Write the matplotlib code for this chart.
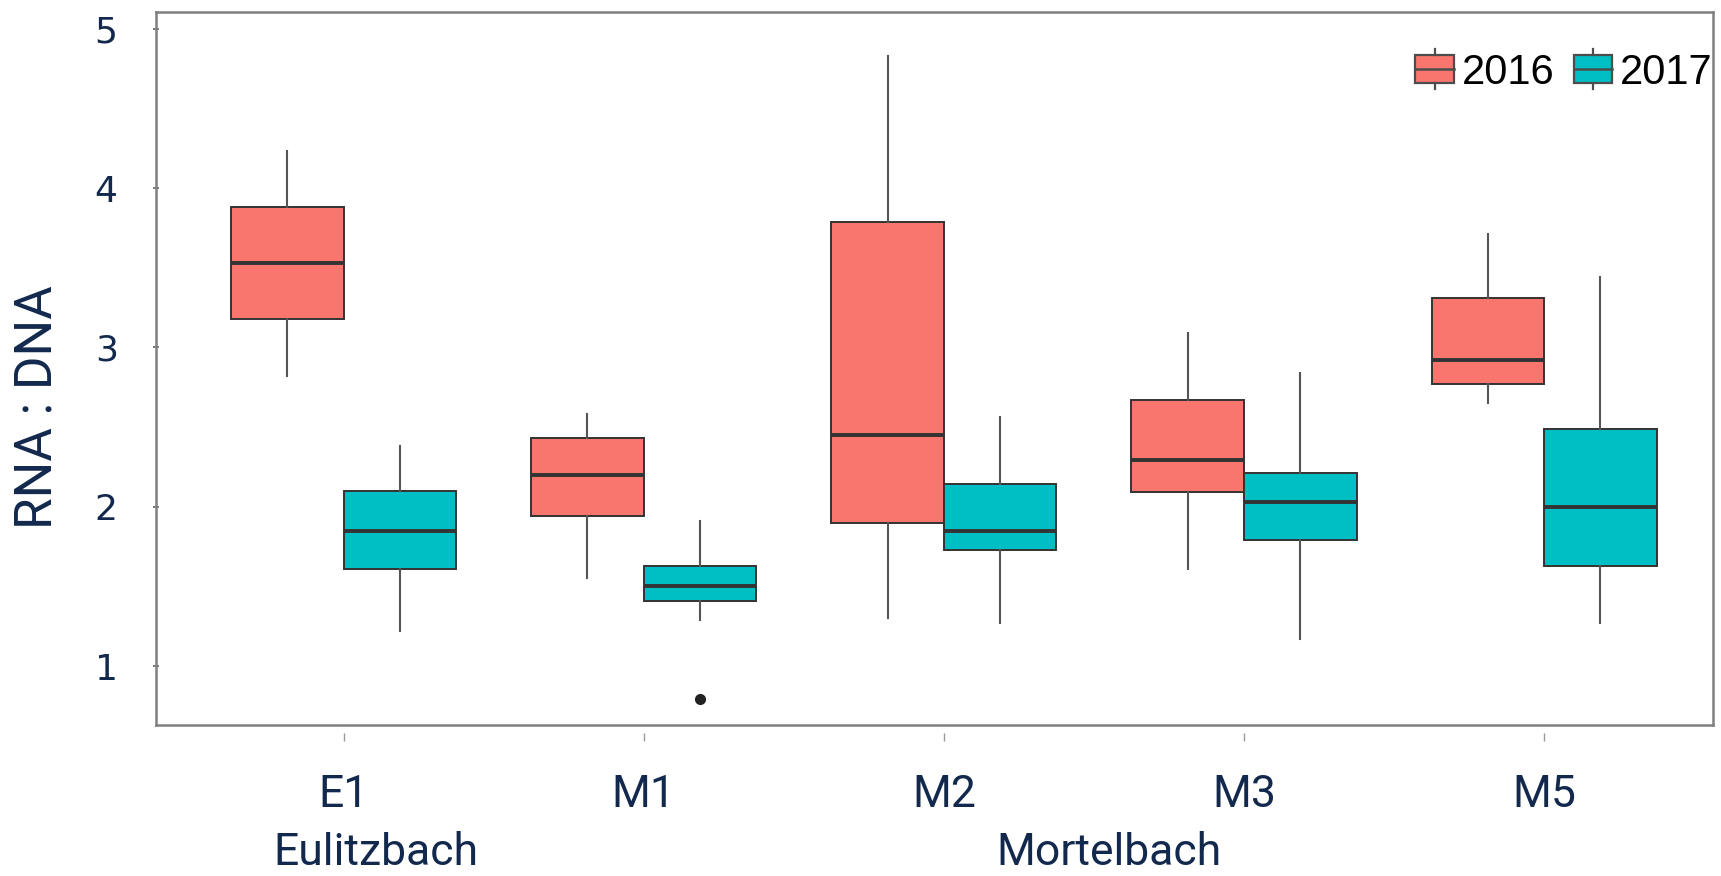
import matplotlib
matplotlib.use('Agg')
from matplotlib import pyplot as plt
from matplotlib.patches import Rectangle
from matplotlib.lines import Line2D
from matplotlib.path import Path
from matplotlib.legend_handler import HandlerBase

sites = ['E1', 'M1', 'M2', 'M3', 'M5']
streams = ['Eulitzbach', 'Mortelbach']
stream_pos = [1.108, 3.549]

# whisker low, Q1, median, Q3, whisker high
box2016 = [
    [2.82, 3.18, 3.53, 3.88, 4.23],
    [1.55, 1.94, 2.20, 2.43, 2.58],
    [1.30, 1.90, 2.45, 3.79, 4.83],
    [1.61, 2.09, 2.29, 2.67, 3.09],
    [2.65, 2.77, 2.92, 3.31, 3.71],
]
box2017 = [
    [1.22, 1.61, 1.85, 2.10, 2.38],
    [1.29, 1.41, 1.50, 1.63, 1.91],
    [1.27, 1.73, 1.85, 2.14, 2.56],
    [1.17, 1.79, 2.03, 2.21, 2.84],
    [1.27, 1.63, 2.00, 2.49, 3.44],
]
outliers2017 = [[], [0.79], [], [], []]

c2016 = '#F8766D'
c2017 = '#00BFC4'
navy = '#12294D'
edge = '#333333'
label_font = ['Roboto', 'DejaVu Sans']


def stats(rows, fliers=None):
    out = []
    for i, r in enumerate(rows):
        out.append(dict(whislo=r[0], q1=r[1], med=r[2], q3=r[3], whishi=r[4],
                        fliers=(fliers[i] if fliers else [])))
    return out


fig = plt.figure(figsize=(17.21, 8.76), dpi=100)
ax = fig.add_axes([0.0906, 0.1724, 0.9047, 0.8139])

pos = list(range(1, len(sites) + 1))
for data, col, off, fl in [(box2016, c2016, -0.1875, None), (box2017, c2017, 0.1875, outliers2017)]:
    ax.bxp(stats(data, fl), positions=[p + off for p in pos], widths=0.375,
           patch_artist=True, showcaps=False,
           boxprops=dict(facecolor=col, edgecolor=edge, linewidth=1.4),
           medianprops=dict(color=edge, linewidth=2.8),
           whiskerprops=dict(color='#555555', linewidth=1.5),
           flierprops=dict(marker='o', markerfacecolor='#222222', markeredgecolor='#222222', markersize=7))

ax.set_xlim(0.375, 5.562)
ax.set_ylim(0.63, 5.105)
ax.set_xticks(pos)
ax.set_xticklabels(sites, family=label_font, fontsize=32, color=navy)
ax.set_yticks([1, 2, 3, 4, 5])
ax.set_yticklabels(['1', '2', '3', '4', '5'], fontsize=26, color=navy)
ax.tick_params(axis='x', length=23, width=1, color='#999999', pad=12)
ax.tick_params(axis='y', direction='inout', length=5, width=1.2, color='#666666', pad=25)
# x ticks sit a little below the frame, with a gap
gap_tick = Path([(0, -1), (0, -2)])
for t in ax.xaxis.get_major_ticks():
    t.tick1line.set_marker(gap_tick)
    t.tick1line.set_markersize(23)

ax.set_ylabel('RNA : DNA', family=label_font, fontsize=37, color=navy)
ax.yaxis.set_label_coords(-0.060, 0.446)
for s in ax.spines.values():
    s.set_color('#808080')
    s.set_linewidth(1.8)

for name, x in zip(streams, stream_pos):
    ax.text(x, -0.209, name, transform=ax.get_xaxis_transform(), ha='center', va='bottom',
            family=label_font, fontsize=32, color=navy)


class BoxHandler(HandlerBase):
    def create_artists(self, legend, orig_handle, xdescent, ydescent, width, height, fontsize, trans):
        x0, y0 = -xdescent, -ydescent
        rect = Rectangle((x0, y0), width, height, facecolor=orig_handle.get_facecolor(),
                         edgecolor='#4d4d4d', linewidth=1.6, transform=trans)
        med = Line2D([x0, x0 + width], [y0 + height / 2] * 2, color='#4d4d4d', linewidth=1.8, transform=trans)
        w1 = Line2D([x0 + width / 2] * 2, [y0 - 0.22 * height, y0], color='#4d4d4d', linewidth=1.6, transform=trans)
        w2 = Line2D([x0 + width / 2] * 2, [y0 + height, y0 + 1.22 * height], color='#4d4d4d', linewidth=1.6, transform=trans)
        return [rect, med, w1, w2]


h1 = Rectangle((0, 0), 1, 1, facecolor=c2016)
h2 = Rectangle((0, 0), 1, 1, facecolor=c2017)
leg = ax.legend([h1, h2], ['2016', '2017'], handler_map={Rectangle: BoxHandler()},
                loc='center right', bbox_to_anchor=(1.0, 0.915), ncol=2, frameon=False,
                prop=dict(family='Liberation Sans', size=30), handlelength=0.92, handleheight=0.63,
                handletextpad=0.2, columnspacing=0.45, borderaxespad=0, borderpad=0)

fig.savefig('out.png', dpi=100)
